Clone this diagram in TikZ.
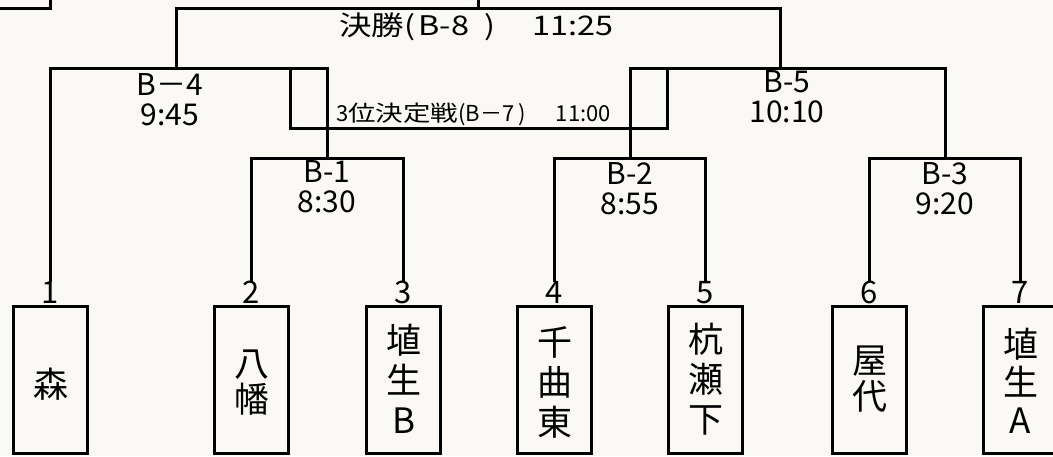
\documentclass[tikz,border=0pt]{standalone}
\usepackage{fontspec}
\usepackage{graphicx}
\setmainfont{Noto Sans CJK JP}
\definecolor{paper}{RGB}{250,249,246}
\tikzset{
  ln/.style={line width=3pt, line join=miter},
  teambox/.style={draw, line width=3pt, minimum width=74pt, minimum height=147pt, inner sep=0pt},
  num/.style={font=\fontsize{31}{31}\selectfont, inner sep=0pt, anchor=south},
  tname/.style={font=\fontsize{35}{40}\selectfont, align=center, inner sep=0pt},
  matchlbl/.style={font=\fontsize{30}{30}\selectfont, align=center, inner sep=0pt, anchor=north},
}
\begin{document}
\begin{tikzpicture}[x=1pt,y=-1pt]
\useasboundingbox (0,0) rectangle (1053,456);
\clip (0,0) rectangle (1053,456);
\fill[paper] (0,0) rectangle (1053,456);

% partly visible header box
\node[draw, line width=3pt, minimum width=80pt, minimum height=40pt, inner sep=0pt] (hdr) at (10.5,-11.5) {};

% team boxes
\foreach \i/\x in {1/50.5,2/251.5,3/403.5,4/554.5,5/705.5,6/869.5,7/1020.5}{
  \node[teambox] (t\i) at (\x,380) {};
  \node[num] (n\i) at (\x,304) {\i};
}
\node[tname] (s1) at (50.5,384) {森};
\node[tname] (s2) at (251.5,383) {八\\[-4pt]幡};
\node[tname] (s3) at (403.5,379) {埴\\生\\B};
\node[tname] (s4) at (554.5,382) {千\\曲\\東};
\node[tname] (s5) at (705.5,379) {杭\\瀬\\下};
\node[tname] (s6) at (869.5,379) {屋\\[-4pt]代};
\node[tname] (s7) at (1020.5,381) {埴\\[-2pt]生\\[-2pt]A};

% junctions
\coordinate (m8) at (478.5,8.5);
\coordinate (top) at (478.5,-5);
\coordinate (m4) at (176.5,68.5);
\coordinate (m5) at (780.5,68.5);
\coordinate (m1) at (327.5,158.5);
\coordinate (m2) at (630.5,158.5);
\coordinate (m3) at (945.5,158.5);
\coordinate (l4) at (290.5,68.5);
\coordinate (l5) at (667.5,68.5);
\coordinate (p7) at (479,128.5);

% first round
\draw[ln] (n2.north) |- (m1) -| (n3.north);
\draw[ln] (n4.north) |- (m2) -| (n5.north);
\draw[ln] (n6.north) |- (m3) -| (n7.north);
% semi-finals
\draw[ln] (n1.north) |- (m1 |- m4) -- (m1);
\draw[ln] (m2) |- (m3 |- m5) -- (m3);
% final
\draw[ln] (m4) |- (m8) -| (m5);
\draw[ln] (m8) -- (top);
% third place
\draw[ln] (l4) |- (p7) -| (l5);

% labels
\node[font=\fontsize{27}{27}\selectfont, inner sep=0pt, anchor=base west] (lf) at (339,35)
  {\scalebox{1.2}[1]{決勝(\hspace{3pt}B-8\hspace{13pt})\hspace{31pt}11:25}};
\node[font=\fontsize{22}{22}\selectfont, inner sep=0pt, anchor=base west] (l7) at (336,121)
  {3\scalebox{1.25}[1]{位決定戦}(B－7\hspace{4pt})\hspace{30pt}11:00};
\node[matchlbl] (l4t) at (170,73) {B－4\\9:45};
\node[matchlbl] (l5t) at (787,70) {B-5\\10:10};
\node[matchlbl] (l1t) at (327,160) {B-1\\8:30};
\node[matchlbl] (l2t) at (630,162) {B-2\\8:55};
\node[matchlbl] (l3t) at (945,162) {B-3\\9:20};
\end{tikzpicture}
\end{document}
